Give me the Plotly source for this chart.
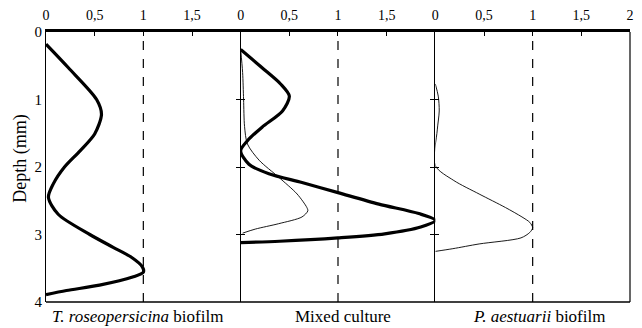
import plotly.graph_objects as go

# ---- data (x = relative value, y = depth in mm) ----
p1_thick_x = [0.0, 0.23, 0.52, 0.57, 0.50, 0.35, 0.19, 0.075, 0.025, 0.125, 0.45, 0.69, 0.87, 0.99, 1.0, 0.89, 0.55, 0.21, 0.0]
p1_thick_y = [0.18, 0.53, 1.0, 1.22, 1.51, 1.76, 2.0, 2.25, 2.45, 2.7, 3.0, 3.19, 3.33, 3.48, 3.56, 3.63, 3.75, 3.83, 3.89]

p2_thick_x = [0.0, 0.22, 0.41, 0.50, 0.43, 0.22, 0.07, 0.0, 0.085, 0.29, 0.63, 1.0, 1.42, 1.83, 2.0, 1.85, 1.48, 1.0, 0.4, 0.0]
p2_thick_y = [0.26, 0.53, 0.77, 0.95, 1.17, 1.41, 1.61, 1.76, 1.96, 2.1, 2.23, 2.38, 2.55, 2.69, 2.79, 2.89, 2.99, 3.05, 3.1, 3.12]

p2_thin_x = [0.0, 0.02, 0.03, 0.04, 0.07, 0.19, 0.39, 0.58, 0.68, 0.69, 0.63, 0.39, 0.15, 0.02]
p2_thin_y = [0.26, 0.6, 1.0, 1.4, 1.66, 1.9, 2.15, 2.4, 2.6, 2.65, 2.74, 2.84, 2.92, 2.98]

p3_thin_x = [0.0, 0.03, 0.04, 0.02, 0.0, 0.19, 0.45, 0.72, 0.89, 0.97, 1.0, 0.97, 0.88, 0.45, 0.18, 0.0]
p3_thin_y = [0.77, 0.95, 1.17, 1.45, 1.98, 2.2, 2.4, 2.6, 2.74, 2.82, 2.9, 2.97, 3.05, 3.14, 3.21, 3.25]

x_tickvals = [0, 0.5, 1, 1.5, 2]
x_ticktext = ["0", "0,5", "1", "1,5", "2"]
y_tickvals = [0, 1, 2, 3, 4]
panel_labels = ["<i>T. roseopersicina</i> biofilm", "Mixed culture", "<i>P. aestuarii</i> biofilm"]
y_title = "Depth (mm)"

FONT = "Liberation Serif"
fig = go.Figure()

def add(x, y, xa, w):
    fig.add_trace(go.Scatter(x=x, y=y, xaxis=xa, yaxis="y", mode="lines",
                             line=dict(color="black", width=w, shape="spline", smoothing=0.8),
                             showlegend=False, hoverinfo="skip"))

add(p1_thick_x, p1_thick_y, "x", 3.2)
add(p2_thin_x, p2_thin_y, "x2", 0.9)
add(p2_thick_x, p2_thick_y, "x2", 3.2)
add(p3_thin_x, p3_thin_y, "x3", 0.9)

domains = [[0, 1/3], [1/3, 2/3], [2/3, 1]]
for i, d in enumerate(domains):
    name = "xaxis" if i == 0 else f"xaxis{i+1}"
    tv = x_tickvals if i == 2 else x_tickvals[:4]
    tt = x_ticktext if i == 2 else x_ticktext[:4]
    fig.update_layout(**{name: dict(
        domain=d, range=[0, 2], side="top", anchor="y",
        tickvals=tv, ticktext=tt, ticks="inside", ticklen=4, tickcolor="black",
        ticklabelstandoff=4,
        showline=True, linecolor="black", linewidth=2.5,
        showgrid=False, zeroline=False, fixedrange=True,
        tickfont=dict(family=FONT, size=14, color="black"))})
    fig.add_shape(type="line", xref="x" if i == 0 else f"x{i+1}", yref="paper",
                  x0=1, x1=1, y0=0, y1=1, line=dict(color="black", width=1.2, dash="dash"))

fig.update_layout(yaxis=dict(
    range=[4, 0], tickvals=y_tickvals, anchor="x", showline=True, linecolor="black",
    linewidth=1.2, showgrid=False, zeroline=False, ticks="", fixedrange=True,
    tickfont=dict(family=FONT, size=15, color="black")))

# panel divider axes with crossing ticks
for k, xa in [(2, "x2"), (3, "x3")]:
    for j, tk in enumerate(["outside", "inside"]):
        nm = f"yaxis{k*2 + j}"
        fig.update_layout(**{nm: dict(
            range=[4, 0], overlaying="y", anchor=xa, side="left",
            tickvals=[1, 2, 3], showticklabels=False, ticks=tk, ticklen=4,
            tickcolor="black", tickwidth=1.2,
            showline=True, linecolor="black", linewidth=1.2,
            showgrid=False, zeroline=False, fixedrange=True)})
    for j in range(2):
        fig.add_trace(go.Scatter(x=[None], y=[None], xaxis=xa, yaxis=f"y{k*2 + j}",
                                 showlegend=False, hoverinfo="skip"))

# frame: bottom and right
fig.add_shape(type="line", xref="paper", yref="paper", x0=0, x1=1, y0=0, y1=0,
              line=dict(color="black", width=1.5))
fig.add_shape(type="line", xref="paper", yref="paper", x0=1, x1=1, y0=0, y1=1,
              line=dict(color="black", width=1.2))

centers = [1/6 - 0.01, 0.5 + 0.008, 5/6 + 0.01]
for c, t in zip(centers, panel_labels):
    fig.add_annotation(text=t, x=c, y=-0.01, xref="paper", yref="paper",
                       xanchor="center", yanchor="top", showarrow=False,
                       font=dict(family=FONT, size=17, color="black"))

fig.add_annotation(text=y_title, x=-0.043, y=0.53, xref="paper", yref="paper",
                   textangle=-90, showarrow=False, xanchor="center", yanchor="middle",
                   font=dict(family=FONT, size=18, color="black"))

fig.update_layout(width=642, height=328, margin=dict(l=46, r=8, t=31, b=26),
                  plot_bgcolor="white", paper_bgcolor="white")

fig.write_html("out.html", config={"displayModeBar": False})
